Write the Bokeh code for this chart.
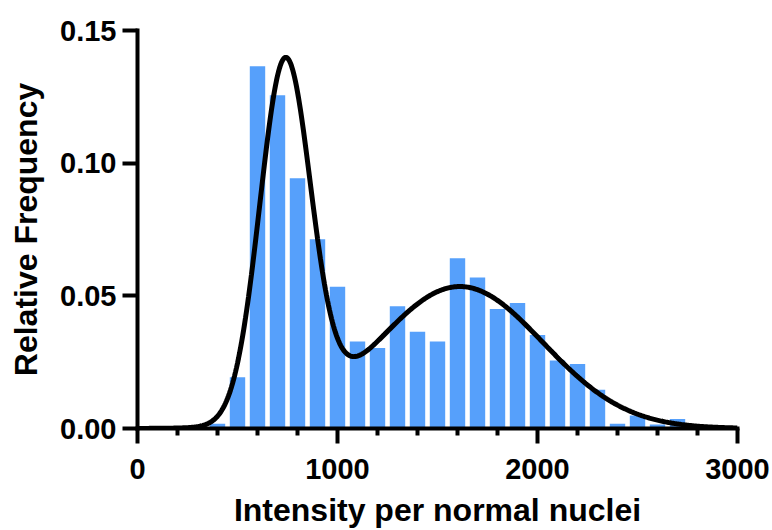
import numpy as np
from bokeh.plotting import figure
from bokeh.models import Range1d, FixedTicker
from bokeh.embed import file_html
from bokeh.resources import INLINE

# ---- data ----
bin_centers = [400, 500, 600, 700, 800, 900, 1000, 1100, 1200, 1300, 1400, 1500,
               1600, 1700, 1800, 1900, 2000, 2100, 2200, 2300, 2400, 2500, 2600, 2700]
rel_freq = [0.0018, 0.0193, 0.1365, 0.1256, 0.0943, 0.0713, 0.0534, 0.0328, 0.0303,
            0.0461, 0.0365, 0.0328, 0.0642, 0.0569, 0.0450, 0.0473, 0.0352, 0.0256,
            0.0243, 0.0146, 0.0018, 0.0049, 0.0015, 0.0036]

# sum-of-two-Gaussians fit (parameters estimated from the drawn curve)
fit_amp = [0.134, 0.0535]
fit_mean = [738.0, 1612.0]
fit_sd = [127.0, 415.0]

x_major_ticks = [0, 1000, 2000, 3000]
x_minor_ticks = [200, 400, 600, 800, 1200, 1400, 1600, 1800, 2200, 2400, 2600, 2800]
y_major_ticks = [0.0, 0.05, 0.10, 0.15]
y_tick_labels = ["0.00", "0.05", "0.10", "0.15"]

x_title = "Intensity per normal nuclei"
y_title = "Relative Frequency"

# ---- fitted curve ----
fit_x = np.linspace(0, 3000, 601)
fit_y = np.zeros_like(fit_x)
for a, m, s in zip(fit_amp, fit_mean, fit_sd):
    fit_y += a * np.exp(-((fit_x - m) ** 2) / (2 * s ** 2))

FONT = "Liberation Sans"

p = figure(width=772, height=530,
           x_range=Range1d(0, 3000), y_range=Range1d(0, 0.15),
           output_backend="svg", toolbar_location=None,
           min_border_left=137, min_border_right=35,
           min_border_top=30, min_border_bottom=102)
p.outline_line_color = None
p.grid.visible = False
p.background_fill_color = "white"
p.border_fill_color = "white"

p.vbar(x=bin_centers, top=rel_freq, bottom=0, width=77,
       fill_color="#56A0FB", line_color=None)
p.line(fit_x, fit_y, line_width=5, line_color="black")

for ax in (p.xaxis[0], p.yaxis[0]):
    ax.axis_line_width = 4
    ax.axis_line_color = "black"
    ax.axis_line_cap = "square"
    ax.major_tick_line_width = 4
    ax.major_tick_line_color = "black"
    ax.major_tick_in = 0
    ax.major_tick_out = 15
    ax.minor_tick_line_width = 4
    ax.minor_tick_line_color = "black"
    ax.minor_tick_in = 0
    ax.minor_tick_out = 7
    ax.major_label_text_font = FONT
    ax.major_label_text_font_style = "bold"
    ax.major_label_text_font_size = "29px"
    ax.major_label_text_color = "black"
    ax.axis_label_text_font = FONT
    ax.axis_label_text_font_style = "bold"
    ax.axis_label_text_font_size = "32px"
    ax.axis_label_text_color = "black"

xa = p.xaxis[0]
xa.ticker = FixedTicker(ticks=x_major_ticks, minor_ticks=x_minor_ticks)
xa.major_label_standoff = 15
xa.axis_label = x_title
xa.axis_label_standoff = 10

ya = p.yaxis[0]
ya.ticker = FixedTicker(ticks=y_major_ticks)
ya.major_label_overrides = {t: l for t, l in zip(y_major_ticks, y_tick_labels)}
ya.minor_tick_line_color = None
ya.major_label_standoff = 6
ya.axis_label = y_title
ya.axis_label_standoff = 13

open("out.html", "w").write(file_html(p, INLINE))
